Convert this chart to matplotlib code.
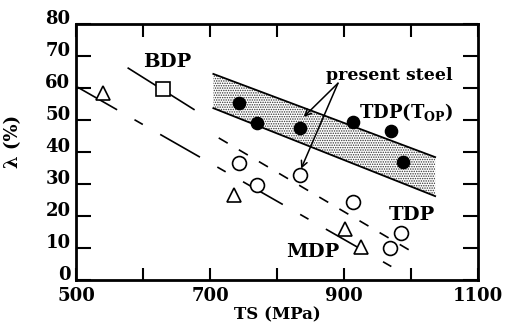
import matplotlib
matplotlib.use("Agg")
import matplotlib.pyplot as plt
import matplotlib.transforms as mtransforms

plt.rcParams['font.family'] = ['DejaVu Serif']
plt.rcParams['font.weight'] = 'bold'
plt.rcParams['axes.labelweight'] = 'bold'
plt.rcParams['mathtext.fontset'] = 'dejavuserif'
plt.rcParams['lines.scale_dashes'] = False
plt.rcParams['hatch.linewidth'] = 0.7

# data
ts_filled = [744, 770, 834, 914, 970, 988]
lam_filled = [55.4, 49.0, 47.6, 49.3, 46.6, 36.8]
ts_open = [744, 770, 834, 914, 985, 968]
lam_open = [36.5, 29.7, 32.8, 24.5, 14.8, 9.9]
ts_tri = [540, 736, 901, 926]
lam_tri = [58.5, 26.6, 15.8, 10.4]
ts_sq = [630]
lam_sq = [59.6]

# trend lines
bdp_ts = [578, 676]
bdp_lam = [66.2, 53.3]
mdp_ts = [502, 974]
mdp_lam = [60.3, 3.8]
tdp_ts = [713, 997]
tdp_lam = [44.4, 9.4]
band_ts = [705, 1036]
band_upper = [64.4, 38.4]
band_lower = [53.7, 26.2]

# arrow from "present steel" label
arrow_from = (891, 61.5)
arrow_to = [(840, 51.0), (836, 34.8)]

fig = plt.figure(figsize=(5.08, 3.29), dpi=100)
ax = fig.add_axes([0.1496, 0.149, 0.7914, 0.778])

ax.fill_between(band_ts, band_lower, band_upper, facecolor='white',
                edgecolor='0.2', hatch='.......', linewidth=0)
ax.plot(band_ts, band_upper, color='black', lw=1.3)
ax.plot(band_ts, band_lower, color='black', lw=1.3)

ax.plot(bdp_ts, bdp_lam, color='black', lw=1.2)
ax.plot(mdp_ts, mdp_lam, color='black', lw=1.2,
        linestyle=(0, (33, 14.4, 6.9, 14.4)))
ax.plot(tdp_ts, tdp_lam, color='black', lw=1.2,
        linestyle=(0, (7.5, 9.3)))

ax.plot(ts_filled, lam_filled, 'o', ms=8.8, color='black', zorder=5)
ax.plot(ts_open, lam_open, 'o', ms=10, mfc='white', mec='black', mew=1.2, zorder=5)
ax.plot(ts_tri, lam_tri, '^', ms=9.5, mfc='white', mec='black', mew=1.2, zorder=5)
ax.plot(ts_sq, lam_sq, 's', ms=10, mfc='white', mec='black', mew=1.2, zorder=5)

for tgt in arrow_to:
    ax.annotate('', xy=tgt, xytext=arrow_from,
                arrowprops=dict(arrowstyle='->', color='black', lw=1.1,
                                mutation_scale=11, shrinkA=0, shrinkB=0))

ax.text(967, 64, 'present steel', ha='center', va='center', fontsize=12.5)
ax.text(923, 50.6, r'TDP(T$_\mathbf{OP}$)', ha='left', va='baseline', fontsize=13)
ax.text(636, 68.1, 'BDP', ha='center', va='center', fontsize=14)
ax.text(1001, 20.2, 'TDP', ha='center', va='center', fontsize=14)
ax.text(853, 8.9, 'MDP', ha='center', va='center', fontsize=14)

ax.set_xlim(500, 1100)
ax.set_ylim(0, 80)
ax.set_xticks(range(500, 1101, 100))
ax.set_xticklabels(['500', '', '700', '', '900', '', '1100'])
ax.set_yticks(range(0, 81, 10))
ax.tick_params(axis='both', direction='in', width=1.5, labelsize=13,
               top=True, right=True)
ax.tick_params(axis='x', length=9, pad=5)
ax.tick_params(axis='y', length=11, pad=4)
for sp in ax.spines.values():
    sp.set_linewidth(2.0)

# y tick labels sit a bit above their ticks in the original
offset = mtransforms.ScaledTranslation(0, 0.07, fig.dpi_scale_trans)
for lbl in ax.get_yticklabels():
    lbl.set_transform(lbl.get_transform() + offset)

ax.set_xlabel('TS (MPa)', fontsize=12, fontweight='bold', labelpad=1)
ax.set_ylabel('λ (%)', fontsize=13, fontweight='bold')
ax.yaxis.set_label_coords(-0.134, 0.54)

fig.savefig('out.png', dpi=100)
